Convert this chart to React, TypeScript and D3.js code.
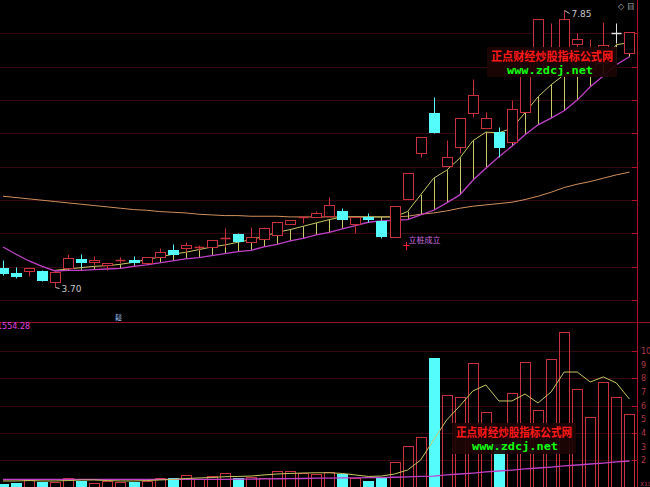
import React from 'react';
import * as d3 from 'd3';

// ---- Data ----
const OPEN = [3.98, 3.91, 3.94, 3.94, 3.77, 3.98, 4.12, 4.08, 4.03, 4.10, 4.10, 4.06, 4.15, 4.25, 4.28, 4.30, 4.30, 4.43, 4.49, 4.37, 4.42, 4.48, 4.64, 4.75, 4.75, 4.76, 4.84, 4.64, 4.75, 4.69, 4.45, 5.02, 5.71, 6.31, 5.51, 5.80, 6.31, 6.08, 6.02, 5.87, 6.32, 6.95, 6.92, 7.10, 7.34, 6.95, 7.07, 7.51, 7.21];
const HIGH = [4.10, 4.00, 3.98, 3.95, 3.94, 4.19, 4.19, 4.16, 4.06, 4.15, 4.16, 4.15, 4.28, 4.34, 4.37, 4.33, 4.40, 4.58, 4.51, 4.60, 4.60, 4.67, 4.70, 4.76, 4.84, 5.05, 4.88, 4.75, 4.81, 4.70, 4.91, 5.41, 5.95, 6.55, 5.90, 6.23, 6.82, 6.32, 6.10, 6.50, 7.25, 7.72, 7.66, 7.85, 7.51, 7.42, 7.67, 7.66, 7.52];
const LOW = [3.88, 3.83, 3.86, 3.79, 3.70, 3.98, 4.00, 4.03, 3.95, 4.06, 4.04, 4.06, 4.15, 4.19, 4.22, 4.25, 4.30, 4.30, 4.37, 4.37, 4.42, 4.48, 4.64, 4.66, 4.75, 4.76, 4.72, 4.51, 4.67, 4.43, 4.45, 5.02, 5.65, 6.01, 5.51, 5.71, 6.25, 6.08, 5.65, 5.87, 6.32, 6.92, 6.88, 7.07, 7.07, 6.89, 7.04, 7.36, 7.21];
const CLOSE = [3.91, 3.86, 3.98, 3.80, 3.92, 4.13, 4.07, 4.10, 4.06, 4.10, 4.07, 4.15, 4.22, 4.19, 4.33, 4.30, 4.40, 4.43, 4.39, 4.45, 4.58, 4.67, 4.70, 4.75, 4.81, 4.93, 4.72, 4.75, 4.72, 4.46, 4.91, 5.41, 5.95, 6.02, 5.65, 6.23, 6.58, 6.23, 5.80, 6.37, 7.15, 7.72, 7.25, 7.72, 7.42, 7.13, 7.33, 7.51, 7.52];
const NEUTRAL_DAYS = [47];

const MA_SHORT: (number | null)[] = [null, null, null, null, 3.95, 3.97, 3.99, 4.01, 4.02, 4.04, 4.07, 4.11, 4.15, 4.19, 4.22, 4.26, 4.30, 4.33, 4.37, 4.41, 4.46, 4.52, 4.56, 4.61, 4.66, 4.71, 4.75, 4.75, 4.75, 4.75, 4.75, 4.83, 5.08, 5.33, 5.45, 5.63, 5.89, 6.02, 6.01, 6.08, 6.31, 6.55, 6.73, 6.88, 6.98, 7.01, 7.07, 7.33, 7.36];
const MA_MID = [4.30, 4.19, 4.09, 4.01, 3.94, 3.95, 3.95, 3.96, 3.97, 3.98, 4.01, 4.03, 4.06, 4.09, 4.12, 4.14, 4.17, 4.20, 4.23, 4.25, 4.30, 4.34, 4.39, 4.43, 4.48, 4.52, 4.57, 4.62, 4.67, 4.69, 4.70, 4.71, 4.78, 4.85, 4.96, 5.08, 5.30, 5.48, 5.65, 5.81, 5.98, 6.13, 6.23, 6.34, 6.50, 6.70, 6.86, 7.03, 7.15];
const MA_LONG = [5.06, 5.04, 5.02, 5.00, 4.98, 4.96, 4.94, 4.92, 4.90, 4.88, 4.86, 4.85, 4.83, 4.82, 4.81, 4.79, 4.78, 4.77, 4.77, 4.76, 4.76, 4.76, 4.75, 4.75, 4.75, 4.75, 4.75, 4.75, 4.75, 4.75, 4.75, 4.76, 4.79, 4.81, 4.84, 4.88, 4.91, 4.93, 4.95, 4.97, 5.01, 5.06, 5.12, 5.19, 5.24, 5.28, 5.33, 5.38, 5.42];

const VOLUME = [0.26, 0.31, 0.55, 0.38, 0.42, 0.72, 0.48, 0.35, 0.48, 0.42, 0.38, 0.50, 0.72, 0.67, 0.92, 0.60, 0.82, 1.04, 0.67, 0.79, 0.72, 1.21, 1.21, 1.08, 0.99, 1.16, 0.99, 0.72, 0.45, 0.67, 1.89, 3.04, 3.72, 9.47, 6.78, 6.65, 9.14, 5.55, 3.20, 6.95, 9.22, 5.68, 9.39, 11.41, 7.22, 5.19, 7.75, 6.61, 5.38];
const VOL_MA_SHORT = [0.48, 0.48, 0.51, 0.48, 0.48, 0.51, 0.55, 0.55, 0.51, 0.48, 0.48, 0.51, 0.55, 0.59, 0.66, 0.70, 0.73, 0.79, 0.81, 0.84, 0.92, 0.99, 1.03, 1.06, 1.08, 1.08, 1.03, 0.92, 0.81, 0.84, 0.99, 1.28, 2.01, 3.48, 4.95, 5.97, 7.07, 7.51, 6.34, 6.34, 6.85, 6.19, 7.00, 8.46, 8.46, 7.73, 8.10, 7.66, 6.48];
const VOL_MA_LONG = [0.60, 0.60, 0.60, 0.60, 0.60, 0.60, 0.60, 0.60, 0.60, 0.60, 0.60, 0.60, 0.60, 0.60, 0.60, 0.60, 0.60, 0.60, 0.61, 0.62, 0.63, 0.64, 0.65, 0.66, 0.68, 0.69, 0.70, 0.71, 0.72, 0.73, 0.75, 0.78, 0.81, 0.84, 0.92, 0.99, 1.06, 1.14, 1.21, 1.28, 1.36, 1.43, 1.50, 1.58, 1.65, 1.72, 1.79, 1.87, 1.94];
const VOL_TICKS = [10, 9, 8, 7, 6, 5, 4, 3, 2];
const VOL_GRID = [10, 8, 6, 4, 2];

const SIGNAL_DAY = 31;
const SIGNAL_TEXT = '立桩成立';
const VOL_HEADER = '1554.28';
const WATERMARK_CN = '正点财经炒股指标公式网';
const WATERMARK_URL = 'www.zdcj.net';

// ---- Styles ----
const W = 650;
const H = 487;
const RED = '#c8303c';
const CYAN = '#54fcfc';
const YELLOW = '#c8c864';
const MAGENTA = '#c040c8';
const ORANGE = '#d0905c';
const GRID = '#340810';
const AXIS = '#b01028';

export default function App() {
  const n = OPEN.length;
  const x = d3.scaleLinear().domain([0, n - 1]).range([3, 629.4]);
  const y = d3.scaleLinear().domain([3.70, 7.85]).range([287, 10]);
  const yv = d3.scaleLinear().domain([0, 10]).range([487.5, 351]);
  const cx = (i: number) => Math.round(x(i)) + 0.5;
  const py = (v: number) => Math.round(y(v)) + 0.5;

  const priceLine = d3
    .line<number | null>()
    .defined((d) => d !== null)
    .x((_, i) => x(i))
    .y((d) => y(d as number));
  const volLine = d3
    .line<number>()
    .x((_, i) => x(i))
    .y((d) => yv(d));

  const mainGrid = d3.range(1, 10).map((k) => Math.round((k * 300) / 9) + 0.5);

  const hiIdx = d3.maxIndex(HIGH);
  const loIdx = d3.minIndex(LOW);

  return (
    <svg
      width={W}
      height={H}
      style={{ position: 'fixed', left: 0, top: 0, background: '#000', display: 'block' }}
      fontFamily="'DejaVu Sans', sans-serif"
    >
      <rect x={0} y={0} width={W} height={H} fill="#000" />
      {/* grids */}
      {mainGrid.map((gy, k) => (
        <g key={'mg' + k}>
          <line x1={0} x2={637} y1={gy} y2={gy} stroke={GRID} strokeWidth={1} />
          <line x1={632} x2={637} y1={gy} y2={gy} stroke={AXIS} strokeWidth={1} />
        </g>
      ))}
      {VOL_GRID.map((v) => (
        <g key={'vg' + v}>
          <line x1={0} x2={637} y1={Math.round(yv(v)) + 0.5} y2={Math.round(yv(v)) + 0.5} stroke={GRID} />
          <line x1={632} x2={637} y1={Math.round(yv(v)) + 0.5} y2={Math.round(yv(v)) + 0.5} stroke={AXIS} />
        </g>
      ))}
      <line x1={0} x2={W} y1={322.5} y2={322.5} stroke="#901020" />
      <line x1={637.5} x2={637.5} y1={0} y2={H} stroke={AXIS} />

      {/* price MA lines and hatching */}
      <path d={priceLine(MA_LONG) || ''} fill="none" stroke={ORANGE} strokeWidth={1} />
      {MA_SHORT.map((v, i) =>
        v === null ? null : (
          <line key={'h' + i} x1={cx(i)} x2={cx(i)} y1={y(v)} y2={y(MA_MID[i])} stroke={YELLOW} strokeWidth={1} />
        )
      )}
      <path d={priceLine(MA_SHORT) || ''} fill="none" stroke={YELLOW} strokeWidth={1} />
      <path d={priceLine(MA_MID) || ''} fill="none" stroke={MAGENTA} strokeWidth={1.3} />

      {/* candles */}
      {OPEN.map((o, i) => {
        const c = CLOSE[i];
        const up = c >= o;
        const neutral = NEUTRAL_DAYS.includes(i);
        const col = neutral ? '#e0e0e0' : up ? RED : CYAN;
        const X = cx(i);
        const top = py(Math.max(o, c));
        const bot = py(Math.min(o, c));
        const hi = py(HIGH[i]);
        const lo = py(LOW[i]);
        if (bot - top < 1) {
          return (
            <g key={'c' + i}>
              <line x1={X} x2={X} y1={hi} y2={lo} stroke={col} />
              <line x1={X - 5} x2={X + 5} y1={top} y2={top} stroke={col} strokeWidth={1.5} />
            </g>
          );
        }
        if (up) {
          return (
            <g key={'c' + i}>
              <line x1={X} x2={X} y1={hi} y2={top} stroke={col} />
              <line x1={X} x2={X} y1={bot} y2={lo} stroke={col} />
              <rect x={X - 5} y={top} width={10} height={bot - top} fill="#000" stroke={col} />
            </g>
          );
        }
        return (
          <g key={'c' + i}>
            <line x1={X} x2={X} y1={hi} y2={lo} stroke={col} />
            <rect x={X - 5.5} y={top - 0.5} width={11} height={bot - top + 1} fill={col} />
          </g>
        );
      })}

      {/* price annotations */}
      <line x1={cx(hiIdx)} y1={py(HIGH[hiIdx])} x2={cx(hiIdx) + 5} y2={py(HIGH[hiIdx]) + 3} stroke="#c8c8c8" />
      <text x={cx(hiIdx) + 7} y={py(HIGH[hiIdx]) + 6} fontSize={9} fill="#c8c8c8">
        {HIGH[hiIdx].toFixed(2)}
      </text>
      <line x1={cx(loIdx)} y1={py(LOW[loIdx])} x2={cx(loIdx) + 4} y2={py(LOW[loIdx]) + 1} stroke="#c8c8c8" />
      <text x={cx(loIdx) + 6} y={py(LOW[loIdx]) + 4} fontSize={9} fill="#c8c8c8">
        {LOW[loIdx].toFixed(2)}
      </text>
      <g stroke="#ff2030" strokeWidth={1}>
        <line x1={x(SIGNAL_DAY) - 4} x2={x(SIGNAL_DAY) + 2} y1={245.5} y2={245.5} />
        <line x1={x(SIGNAL_DAY) - 1} x2={x(SIGNAL_DAY) - 1} y1={242} y2={250} />
      </g>
      <text x={x(SIGNAL_DAY) + 1} y={243} fontSize={8} fill="#d070e0" fontFamily="'Noto Sans CJK SC'">
        {SIGNAL_TEXT}
      </text>
      <text x={618} y={9} fontSize={8} fill="#b0b0b0">◇ 目</text>
      <text x={115} y={320} fontSize={7} fill="#a0c8ff" fontFamily="'Noto Sans CJK SC'">鬆</text>

      {/* volume */}
      {VOLUME.map((v, i) => {
        const up = CLOSE[i] >= OPEN[i];
        const X = cx(i);
        const top = Math.round(yv(v)) + 0.5;
        return up ? (
          <rect key={'v' + i} x={X - 5} y={top} width={10} height={H - top + 2} fill="none" stroke={RED} />
        ) : (
          <rect key={'v' + i} x={X - 5.5} y={top - 0.5} width={11} height={H - top + 2} fill={CYAN} />
        );
      })}
      <path d={volLine(VOL_MA_LONG) || ''} fill="none" stroke={MAGENTA} strokeWidth={1.3} />
      <path d={volLine(VOL_MA_SHORT) || ''} fill="none" stroke={YELLOW} strokeWidth={1} />
      <text x={-3} y={329} fontSize={8} fill="#e040e0">{VOL_HEADER}</text>
      {VOL_TICKS.map((v) => (
        <text key={'vt' + v} x={641} y={yv(v) + 3} fontSize={8} fill="#b03848">
          {v}
        </text>
      ))}
      <text x={640} y={486} fontSize={6} fill="#b03848">X10</text>

      {/* watermarks */}
      {[
        { bx: 487, by: 47, bw: 130, bh: 30 },
        { bx: 452, by: 423, bw: 124, bh: 31 },
      ].map((wm, k) => (
        <g key={'wm' + k}>
          <rect x={wm.bx} y={wm.by} width={wm.bw} height={wm.bh} fill="#1c0404" opacity={0.92} />
          <text
            x={wm.bx + 4}
            y={wm.by + 14}
            fontSize={12}
            fontWeight="bold"
            fill="#ff1818"
            fontFamily="'Noto Sans CJK SC'"
            textLength={wm.bw - 8}
            lengthAdjust="spacingAndGlyphs"
          >
            {WATERMARK_CN}
          </text>
          <text
            x={wm.bx + 20}
            y={wm.by + 27}
            fontSize={11}
            fontWeight="bold"
            fill="#10ff10"
            fontFamily="'DejaVu Sans Mono', monospace"
            textLength={86}
            lengthAdjust="spacingAndGlyphs"
          >
            {WATERMARK_URL}
          </text>
        </g>
      ))}
    </svg>
  );
}
